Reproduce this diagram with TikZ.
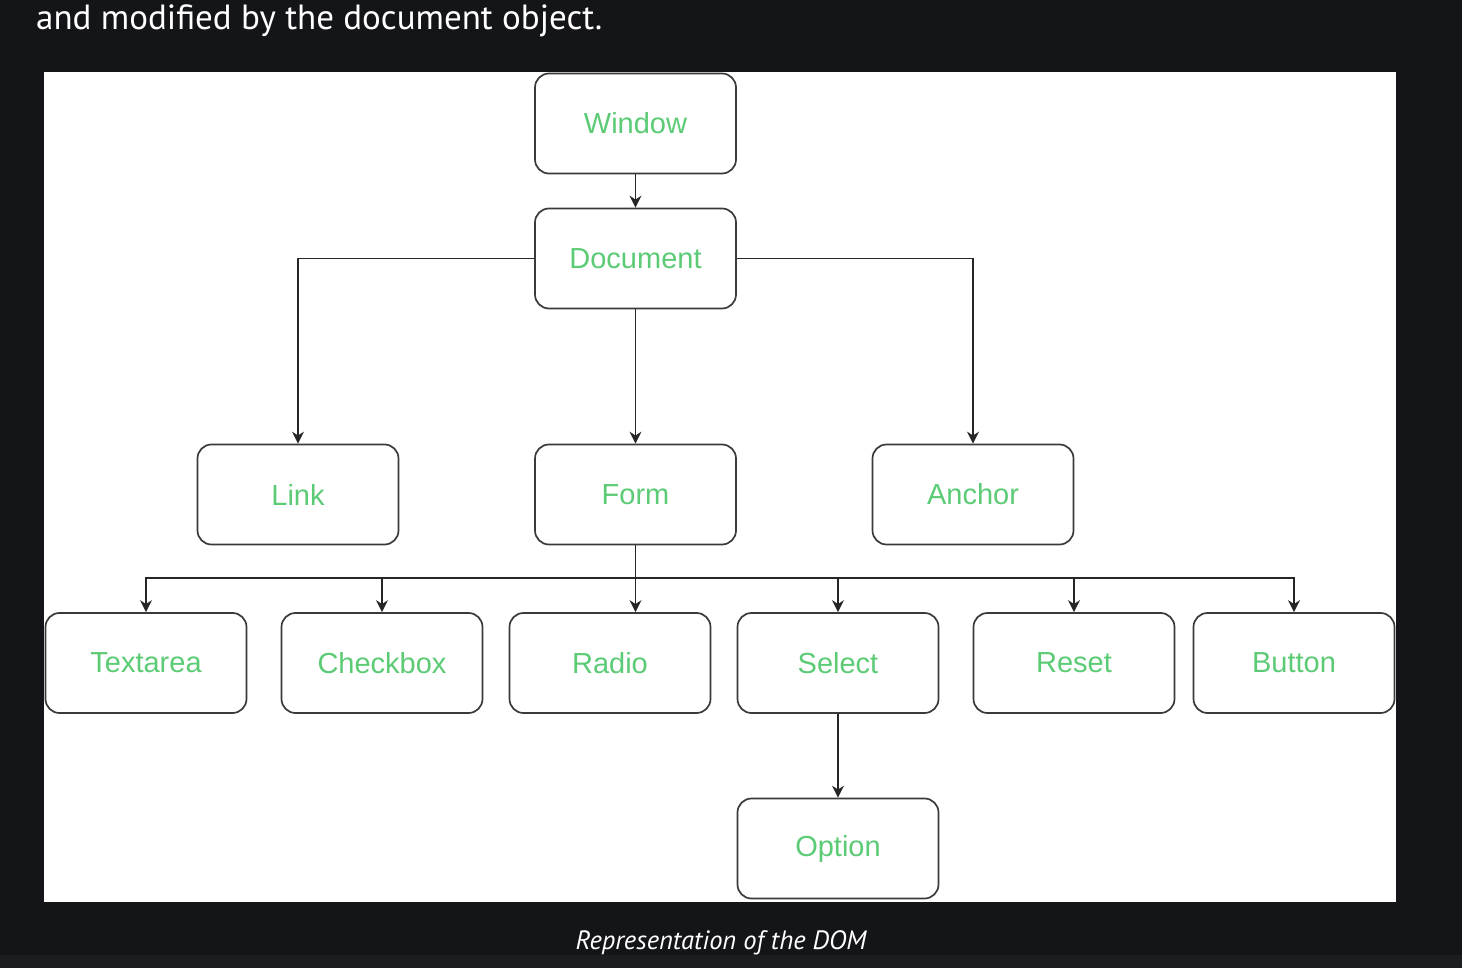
\documentclass[tikz,border=0pt]{standalone}
\usepackage{fontspec}
\setmainfont{Liberation Sans}
\newfontfamily\headfont{PT Sans}
\usetikzlibrary{arrows.meta}
\definecolor{bgdark}{HTML}{141519}
\definecolor{bgstrip}{HTML}{1C1D21}
\definecolor{nodegreen}{HTML}{5CCB76}
\definecolor{boxline}{HTML}{3A3A3A}
\tikzset{
  domnode/.style={draw=boxline, line width=1.7pt, rounded corners=14pt, fill=white,
    minimum width=201pt, minimum height=100pt, inner sep=0pt,
    text=nodegreen, font=\fontsize{29}{33}\selectfont},
  conn/.style={draw=black!85, line width=1.6pt, -{Stealth[length=12pt,width=12pt]}},
}
\begin{document}
\begin{tikzpicture}[x=1pt,y=-1pt]
\fill[bgdark] (0,0) rectangle (1462,968);
\fill[bgstrip] (0,955) rectangle (1462,968);
\useasboundingbox (0,0) rectangle (1462,968);
\fill[white] (44,72) rectangle (1396,902);
\node[anchor=base west, inner sep=0pt, text=white, font=\headfont\fontsize{35}{40}\selectfont] (head) at (36,30) {and modified by the document object.};
\node[anchor=base, inner sep=0pt, text=white, font=\headfont\itshape\fontsize{26.5}{30}\selectfont] (cap) at (721,949) {Representation of the DOM};

\node[domnode] (window) at (635.5,123.5) {Window};
\node[domnode] (document) at (635.5,258.5) {Document};
\node[domnode] (link) at (298,494.5) {Link};
\node[domnode] (form) at (635.5,494.5) {Form};
\node[domnode] (anchor) at (973,494.5) {Anchor};
\node[domnode] (textarea) at (146,663) {Textarea};
\node[domnode] (checkbox) at (382,663) {Checkbox};
\node[domnode] (radio) at (610,663) {Radio};
\node[domnode] (select) at (838,663) {Select};
\node[domnode] (reset) at (1074,663) {Reset};
\node[domnode] (button) at (1294,663) {Button};
\node[domnode] (option) at (838,848.5) {Option};

\coordinate (bus) at (635,578);

\draw[conn] (window) -- (document);
\draw[conn] (document.west) -| (link.north);
\draw[conn] (document.east) -| (anchor.north);
\draw[conn] (document) -- (form);
\draw[conn] (form.south) |- (bus) -| (textarea.north);
\draw[conn] (form.south) |- (bus) -| (checkbox.north);
\draw[conn] (form.south) -- (form.south |- radio.north);
\draw[conn] (form.south) |- (bus) -| (select.north);
\draw[conn] (form.south) |- (bus) -| (reset.north);
\draw[conn] (form.south) |- (bus) -| (button.north);
\draw[conn] (select) -- (option);
\end{tikzpicture}
\end{document}
